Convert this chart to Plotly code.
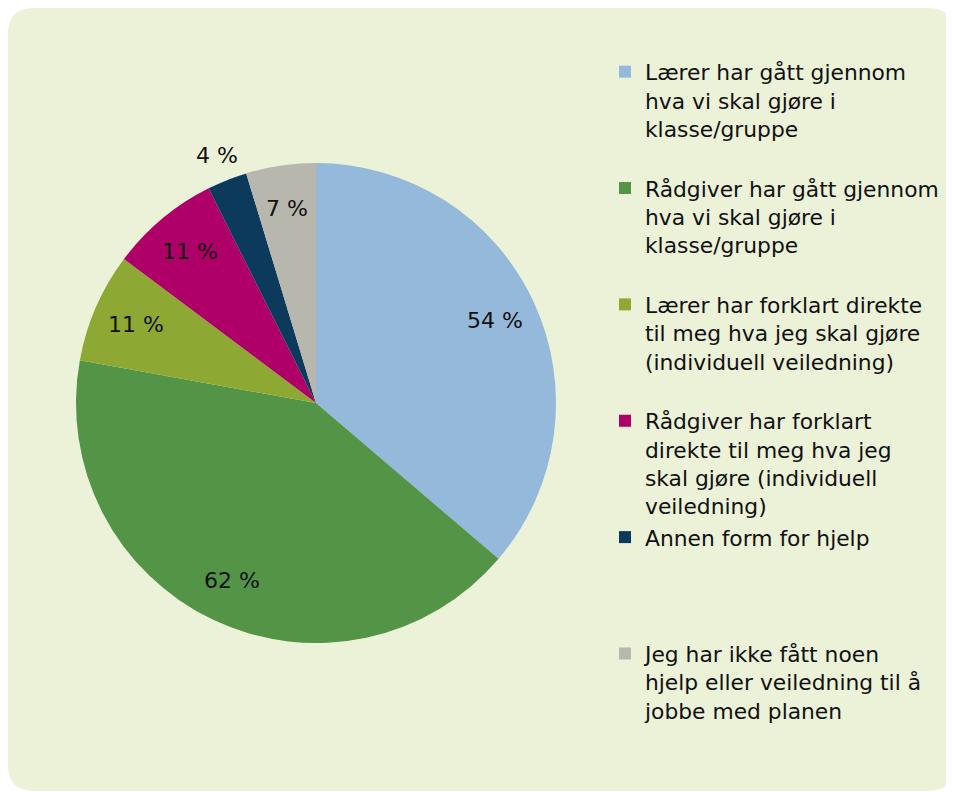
import math
import plotly.graph_objects as go

# Survey answers (multiple choice, shown as share of respondents)
categories = [
    ["Lærer har gått gjennom", "hva vi skal gjøre i", "klasse/gruppe"],
    ["Rådgiver har gått gjennom", "hva vi skal gjøre i", "klasse/gruppe"],
    ["Lærer har forklart direkte", "til meg hva jeg skal gjøre", "(individuell veiledning)"],
    ["Rådgiver har forklart", "direkte til meg hva jeg", "skal gjøre (individuell", "veiledning)"],
    ["Annen form for hjelp"],
    ["Jeg har ikke fått noen", "hjelp eller veiledning til å", "jobbe med planen"],
]
values = [54, 62, 11, 11, 4, 7]
colors = ["#95B9DA", "#539447", "#8EA933", "#AE0066", "#0B3A5C", "#B8B7AE"]
outside = [False, False, False, False, True, False]

# page body adds an 8px margin, so the figure is a bit smaller than the window
W, H = 938, 784
CX, CY, R = 308, 395, 240  # pie centre / radius in px
LEGEND_LINES = 4  # every legend entry padded to the same height
FONT = "DejaVu Sans"

labels = ["<br>".join(c + [" "] * (LEGEND_LINES - len(c))) for c in categories]

fig = go.Figure(go.Pie(
    labels=labels,
    values=values,
    sort=False,
    direction="clockwise",
    rotation=0,
    marker=dict(colors=colors, line=dict(width=0)),
    textinfo="none",
    domain=dict(x=[(CX - R) / W, (CX + R) / W],
                y=[(H - CY - R) / H, (H - CY + R) / H]),
    hoverinfo="label+value",
))

# value labels placed on the middle of each slice, like the original
total = sum(values)
cum = 0
for v, out in zip(values, outside):
    ang = 2 * math.pi * (cum + v / 2) / total
    cum += v
    rr = R * (1.11 if out else 0.82)
    px = CX + rr * math.sin(ang)
    py = CY - rr * math.cos(ang)
    fig.add_annotation(x=px / W, y=1 - py / H, xref="paper", yref="paper",
                       text=f"{v} %", showarrow=False,
                       font=dict(family=FONT, size=22, color="#111111"),
                       xanchor="center", yanchor="middle")

# rounded light green panel behind everything
x0, y0, x1, y1 = 0, 1 - 783 / H, 946 / W, 1
rx, ry = 26 / W, 26 / H
panel = (f"M {x0 + rx},{y1} L {x1 - rx},{y1} Q {x1},{y1} {x1},{y1 - ry} "
         f"L {x1},{y0 + ry} Q {x1},{y0} {x1 - rx},{y0} "
         f"L {x0 + rx},{y0} Q {x0},{y0} {x0},{y0 + ry} "
         f"L {x0},{y1 - ry} Q {x0},{y1} {x0 + rx},{y1} Z")

fig.update_layout(
    width=W,
    height=H,
    margin=dict(l=0, r=0, t=0, b=0),
    paper_bgcolor="white",
    plot_bgcolor="white",
    font=dict(family=FONT, color="#111111"),
    showlegend=True,
    legend=dict(
        x=597 / W, y=1 - 43 / H,
        xanchor="left", yanchor="top",
        valign="top",
        font=dict(family=FONT, size=21.8, color="#111111"),
        bgcolor="rgba(0,0,0,0)",
        itemclick=False,
    ),
    shapes=[dict(type="path", xref="paper", yref="paper", path=panel,
                 fillcolor="#ECF2D8", line=dict(width=0), layer="below")],
)

fig.write_html("out.html")
